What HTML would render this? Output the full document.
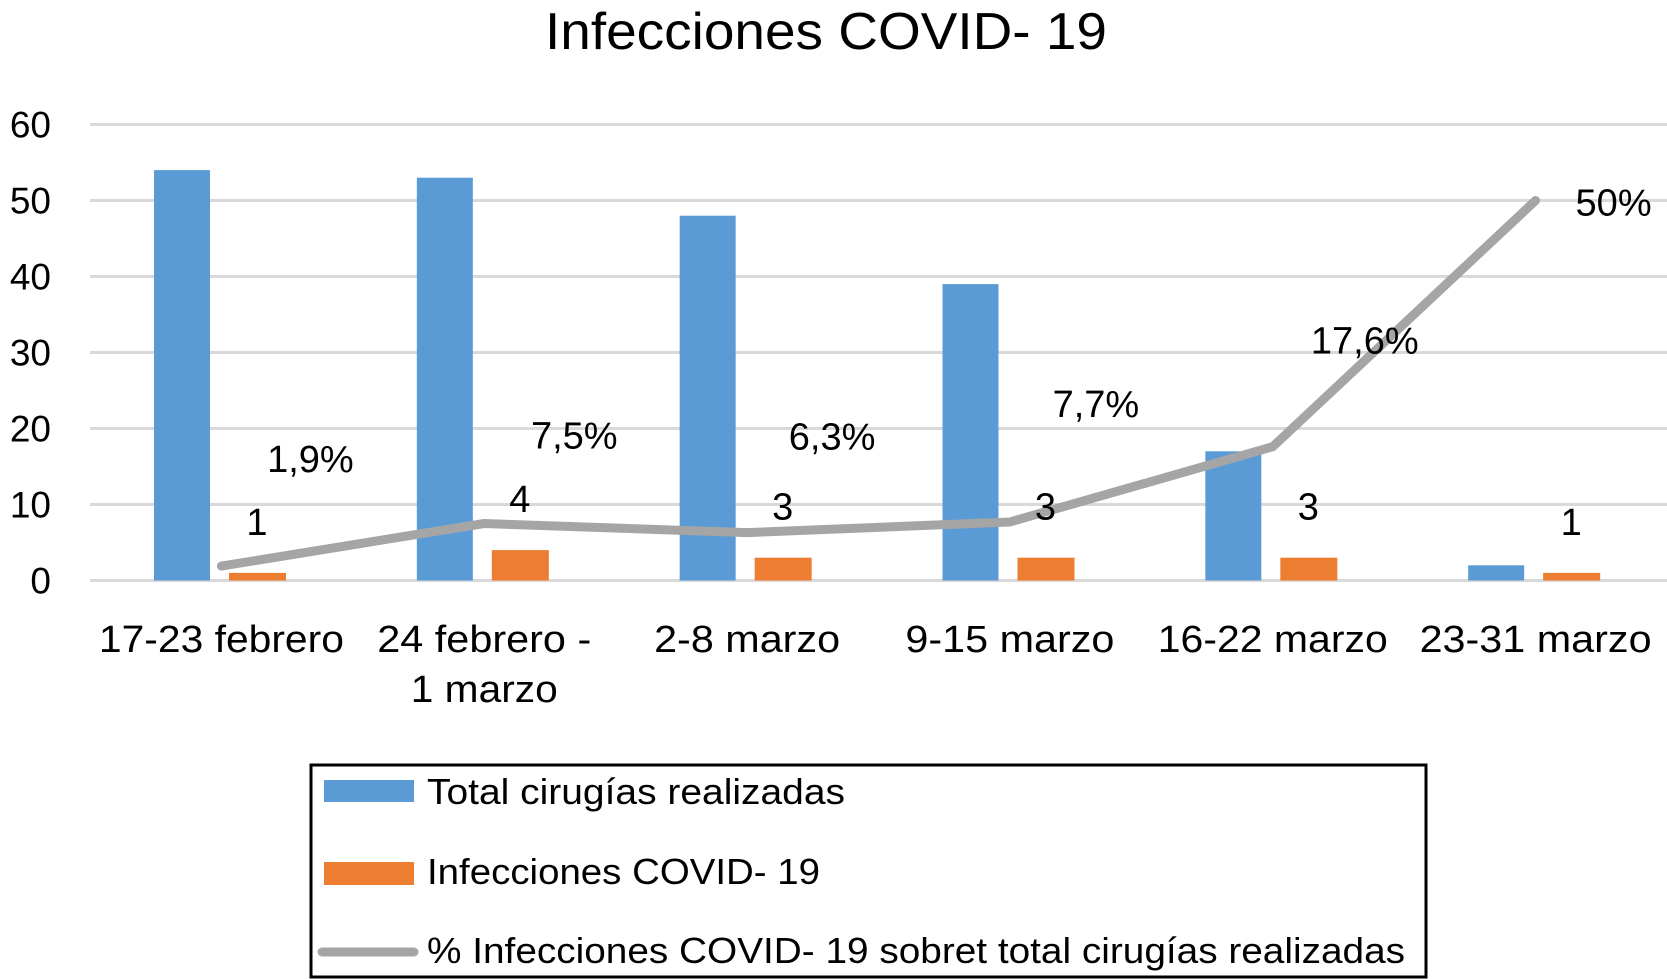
<!DOCTYPE html>
<html><head><meta charset="utf-8"><style>
html,body{margin:0;padding:0;background:#fff;}
svg{display:block;font-family:"Liberation Sans",sans-serif;}
</style></head><body>
<svg id="chart" width="1667" height="979" viewBox="0 0 1667 979" xmlns="http://www.w3.org/2000/svg">
<text x="826" y="49" font-size="52" text-anchor="middle" textLength="562" lengthAdjust="spacingAndGlyphs">Infecciones COVID- 19</text>
<g id="grid"></g><g id="bars"></g><g id="line"></g><g id="labels"></g>
<g>
<rect x="311" y="765" width="1115" height="212" fill="none" stroke="#000" stroke-width="3"/>
<rect x="324" y="780" width="90" height="22" fill="#5b9bd5"/>
<text x="427" y="804" font-size="36" textLength="418" lengthAdjust="spacingAndGlyphs">Total cirugías realizadas</text>
<rect x="324" y="862" width="90" height="23" fill="#ed7d31"/>
<text x="427" y="884" font-size="36" textLength="393" lengthAdjust="spacingAndGlyphs">Infecciones COVID- 19</text>
<line x1="322" y1="952" x2="414" y2="952" stroke="#a5a5a5" stroke-width="9" stroke-linecap="round"/>
<text x="427" y="963" font-size="36" textLength="978" lengthAdjust="spacingAndGlyphs">% Infecciones COVID- 19 sobret total cirugías realizadas</text>
</g>
</svg>
<script>
const categories = [["17-23 febrero"], ["24 febrero -", "1 marzo"], ["2-8 marzo"], ["9-15 marzo"], ["16-22 marzo"], ["23-31 marzo"]];
const totalSurgeries = [54, 53, 48, 39, 17, 2];
const covidInfections = [1, 4, 3, 3, 3, 1];
const percentValues = [1.9, 7.5, 6.3, 7.7, 17.6, 50];
const percentLabels = ["1,9%", "7,5%", "6,3%", "7,7%", "17,6%", "50%"];
const yTicks = [0, 10, 20, 30, 40, 50, 60];
const catWidths = [[245], [214, 147], [186], [209], [230], [232]];
const pctDx = [89, 90, 85, 86, 92, 78];
const pctDy = [-107, -88, -96, -118, -106, 2];

const NS = "http://www.w3.org/2000/svg";
const x0 = 90, x1 = 1667, yZero = 580.5, yPer = 7.6;
const gw = (x1 - x0) / categories.length;
const y = v => yZero - v * yPer;
const gx = i => x0 + i * gw;
function mk(tag, attrs, parent, txt) {
  const e = document.createElementNS(NS, tag);
  for (const k in attrs) e.setAttribute(k, attrs[k]);
  if (txt !== undefined) e.textContent = txt;
  document.getElementById(parent).appendChild(e);
  return e;
}
yTicks.forEach(t => {
  const l = mk("line", {x1: x0, x2: x1, y1: y(t), y2: y(t), stroke: "#d9d9d9", "stroke-width": 3}, "grid");
  
  
  const tx = mk("text", {x: 51, y: y(t) + 13, "font-size": 37, "text-anchor": "end"}, "grid", String(t));
  
  
});
categories.forEach((c, i) => {
  const cx = gx(i) + gw / 2;
  c.forEach((line, j) => {
    const t = mk("text", {x: cx, y: 652 + j * 50, "font-size": 38, "text-anchor": "middle", textLength: catWidths[i][j], lengthAdjust: "spacingAndGlyphs"}, "grid", line);
    
    
  });
  const b = mk("rect", {x: gx(i) + 64, y: y(totalSurgeries[i]), width: 56, height: totalSurgeries[i] * yPer, fill: "#5b9bd5"}, "bars");
  
  
  const o = mk("rect", {x: gx(i) + 139, y: y(covidInfections[i]), width: 57, height: covidInfections[i] * yPer, fill: "#ed7d31"}, "bars");
  
  
  const cl = mk("text", {x: gx(i) + 167, y: y(covidInfections[i]) - 38, "font-size": 38, "text-anchor": "middle"}, "labels", String(covidInfections[i]));
  
  
  const pl = mk("text", {x: cx + pctDx[i], y: y(percentValues[i]) + pctDy[i] + 13, "font-size": 38, "text-anchor": "middle"}, "labels", percentLabels[i]);
  
  
});
const pts = percentValues.map((v, i) => (gx(i) + gw / 2) + "," + y(v)).join(" ");
const pl = mk("polyline", {points: pts, fill: "none", stroke: "#a5a5a5", "stroke-width": 9, "stroke-linejoin": "round", "stroke-linecap": "round"}, "line");


</script>
</body></html>
